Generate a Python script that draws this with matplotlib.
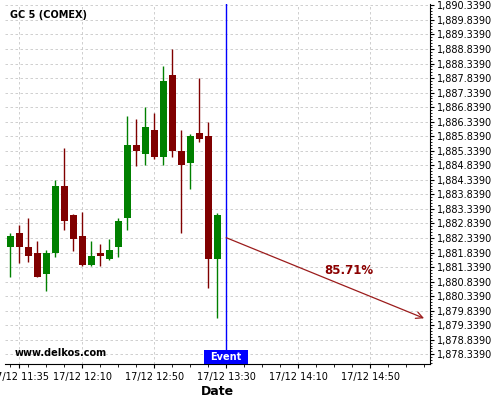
import matplotlib
matplotlib.use('Agg')
import matplotlib.pyplot as plt
import matplotlib.dates as mdates
from matplotlib.ticker import FixedLocator, FuncFormatter
from matplotlib.transforms import blended_transform_factory
from matplotlib.patches import Rectangle
from datetime import datetime
import numpy as np

# 5-minute candles, 17/12
times = ["11:30", "11:35", "11:40", "11:45", "11:50", "11:55", "12:00", "12:05",
         "12:10", "12:15", "12:20", "12:25", "12:30", "12:35", "12:40", "12:45",
         "12:50", "12:55", "13:00", "13:05", "13:10", "13:15", "13:20", "13:25"]
opens = [1882.039, 1882.511, 1882.029, 1881.823, 1881.111, 1881.833, 1884.127, 1883.130,
         1882.407, 1881.420, 1881.833, 1881.627, 1882.039, 1883.037, 1885.537, 1885.238,
         1886.053, 1885.135, 1887.944, 1885.330, 1884.928, 1885.950, 1885.846, 1881.627]
highs = [1882.500, 1882.796, 1883.016, 1882.235, 1881.916, 1884.323, 1885.423, 1883.150,
         1883.222, 1882.225, 1882.122, 1882.294, 1883.016, 1886.524, 1886.421, 1886.833,
         1886.627, 1888.243, 1888.828, 1886.053, 1885.925, 1887.831, 1886.328, 1883.209]
lows = [1880.987, 1881.489, 1881.503, 1880.987, 1880.506, 1881.695, 1882.603, 1881.902,
        1881.386, 1881.386, 1881.386, 1881.592, 1881.695, 1882.603, 1884.825, 1884.839,
        1885.066, 1884.839, 1885.114, 1882.500, 1884.013, 1885.630, 1880.609, 1879.577]
closes = [1882.407, 1882.039, 1881.730, 1881.008, 1881.823, 1884.127, 1882.934, 1882.315,
          1881.420, 1881.720, 1881.730, 1881.926, 1882.923, 1885.537, 1885.341, 1886.156,
          1885.135, 1887.738, 1885.341, 1884.859, 1885.846, 1885.754, 1881.627, 1883.130]

event_time = "13:30"
arrow_start = ("13:30", 1882.349)
arrow_end = ("15:20", 1879.577)
probability = "85.71%"
prob_pos = ("14:38", 1881.204)

x_major = ["11:35", "12:10", "12:50", "13:30", "14:10", "14:50"]
x_range = ("11:27", "15:23.3")
y_range = (1878.005, 1890.386)
y_base = 1878.339


def t(s):
    parts = s.split(":")
    minutes = float(parts[1])
    return mdates.date2num(datetime(2020, 12, 17, int(parts[0]), 0)) + minutes / 1440.0


fig = plt.figure(figsize=(5, 4), dpi=100)
ax = fig.add_axes([0.01, 0.09, 0.85, 0.90])

x = np.array([t(s) for s in times])
o = np.array(opens)
c = np.array(closes)
colors = ['#008000' if cc >= oo else '#800000' for oo, cc in zip(o, c)]

ax.vlines(x, lows, highs, color=colors, lw=1, zorder=3)
ax.bar(x, np.abs(c - o), bottom=np.minimum(o, c), width=3.9 / 1440.0,
       color=colors, zorder=4)

ev = t(event_time)
ax.axvline(ev, color='blue', lw=1, zorder=5)
trans = blended_transform_factory(ax.transData, ax.transAxes)
box_w = 24.4 / 1440.0
ax.add_patch(Rectangle((ev - box_w / 2, 0.0), box_w, 0.039, transform=trans,
                       facecolor='blue', edgecolor='none', zorder=6, clip_on=False))
ax.text(ev, 0.0195, 'Event', transform=trans, ha='center', va='center',
        color='white', fontsize=7, fontweight='bold', zorder=7)

ax.annotate('', xy=(t(arrow_end[0]), arrow_end[1]),
            xytext=(t(arrow_start[0]), arrow_start[1]),
            arrowprops=dict(arrowstyle='->', color='#9b1c1c', lw=0.9,
                            mutation_scale=12, shrinkA=0, shrinkB=0), zorder=5)
ax.text(t(prob_pos[0]), prob_pos[1], probability, color='#8b0000',
        fontsize=8.5, fontweight='bold', ha='center', va='center')

ax.text(0.012, 0.969, 'GC 5 (COMEX)', transform=ax.transAxes, fontsize=7,
        fontweight='bold', ha='left', va='center')
ax.text(0.0235, 0.031, 'www.delkos.com', transform=ax.transAxes, fontsize=7,
        fontweight='bold', ha='left', va='center')

ax.set_xlim(t(x_range[0]), t(x_range[1]))
ax.set_ylim(*y_range)

ax.xaxis.set_major_locator(FixedLocator([t(s) for s in x_major]))
ax.xaxis.set_minor_locator(mdates.MinuteLocator(byminute=range(0, 60, 10)))
ax.xaxis.set_major_formatter(mdates.DateFormatter('%d/%m %H:%M'))

ax.yaxis.tick_right()
ax.yaxis.set_major_locator(FixedLocator(y_base + 0.5 * np.arange(-1, 26)))
ax.yaxis.set_minor_locator(FixedLocator(y_base + 0.1 * np.arange(-5, 130)))
ax.yaxis.set_major_formatter(FuncFormatter(lambda v, p: f"{v:,.4f}"))

ax.tick_params(axis='y', which='major', length=3, labelsize=7, pad=2)
ax.tick_params(axis='y', which='minor', length=1.5)
ax.tick_params(axis='x', which='major', length=3, labelsize=7, pad=3)
ax.tick_params(axis='x', which='minor', length=2)

ax.set_xlabel('Date', fontsize=9, fontweight='bold', labelpad=2)

for side in ['left', 'top']:
    ax.spines[side].set_visible(False)
for side in ['right', 'bottom']:
    ax.spines[side].set_color('black')

ax.grid(True, which='major', linestyle=(0, (3, 3)), color='#c8c8c8', lw=0.6)
ax.set_axisbelow(True)

fig.savefig('out.png', dpi=100)
